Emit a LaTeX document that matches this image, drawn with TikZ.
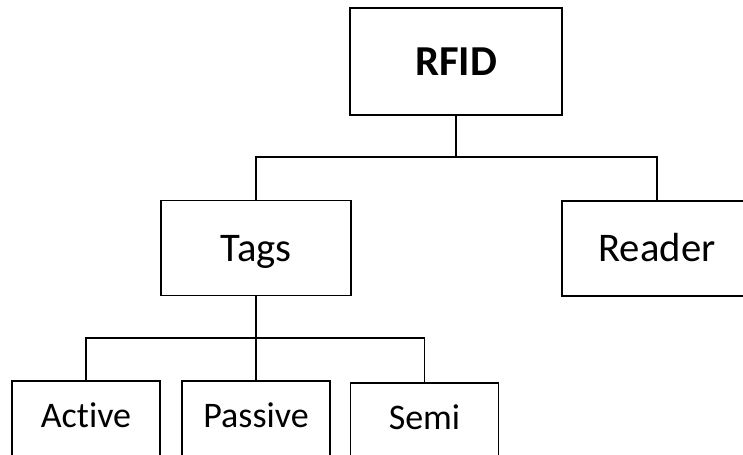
\documentclass[tikz,border=0pt]{standalone}
\usepackage{fontspec}
\setmainfont[Ligatures=NoCommon]{Carlito}
\usetikzlibrary{positioning}

\begin{document}
\begin{tikzpicture}[x=0.75pt,y=-0.75pt,
  box/.style={draw,line width=1.1pt,inner sep=0pt,text depth=0pt},
  big/.style={box,minimum width=159pt,minimum height=80pt,text height=20.6pt,
    font=\fontsize{32}{38}\selectfont\bfseries},
  mid/.style={box,minimum width=142.5pt,minimum height=71.5pt,text height=19.7pt,
    font=\fontsize{30.5}{36}\selectfont},
  leaf/.style={box,minimum width=111pt,minimum height=90pt,text height=17.1pt,text depth=36.75pt,
    font=\fontsize{27}{32}\selectfont},
  link/.style={line width=1.1pt}]

\useasboundingbox (0,0) rectangle (743,454);
\clip (0,0) rectangle (743,454);

% top level
\node[big] (rfid) at (456,61.5) {RFID};

% second level
\node[mid] (tags) at (256,248) {Tags};
\node[mid] (reader) at (657,248.5) {Reader};

% third level (boxes run past the lower edge)
\node[leaf] (active) at (86,441) {Active};
\node[leaf] (passive) at (256,441) {Passive};
\node[leaf] (semi) at (424.5,443) {Semi};

\coordinate (j1) at (456,157);
\coordinate (j2) at (256,338);

\draw[link] (rfid.south) -- (j1);
\draw[link] (tags.north) |- (j1) -| (reader.north);

\draw[link] (tags.south) -- (j2);
\draw[link] (active.north) |- (j2) -| (semi.north);
\draw[link] (passive.north) -- (j2);

\end{tikzpicture}
\end{document}
